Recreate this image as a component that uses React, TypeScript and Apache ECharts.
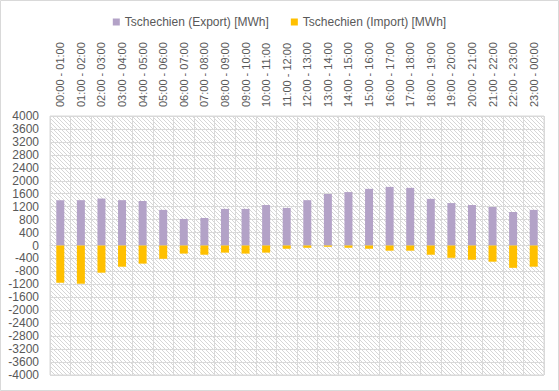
import React, { useEffect, useRef } from "react";
import * as echarts from "echarts";

const categories = [
  "00:00 - 01:00", "01:00 - 02:00", "02:00 - 03:00", "03:00 - 04:00",
  "04:00 - 05:00", "05:00 - 06:00", "06:00 - 07:00", "07:00 - 08:00",
  "08:00 - 09:00", "09:00 - 10:00", "10:00 - 11:00", "11:00 - 12:00",
  "12:00 - 13:00", "13:00 - 14:00", "14:00 - 15:00", "15:00 - 16:00",
  "16:00 - 17:00", "17:00 - 18:00", "18:00 - 19:00", "19:00 - 20:00",
  "20:00 - 21:00", "21:00 - 22:00", "22:00 - 23:00", "23:00 - 00:00",
];

const exportValues = [
  1400, 1400, 1450, 1400, 1375, 1100, 820, 850, 1130, 1130, 1250, 1160,
  1400, 1590, 1650, 1750, 1810, 1780, 1440, 1310, 1250, 1190, 1035, 1100,
];

const importValues = [
  -1150, -1180, -840, -655, -560, -410, -250, -285, -220, -250, -220, -100,
  -70, -40, -70, -100, -160, -160, -285, -380, -440, -500, -690, -655,
];

const seriesNames = ["Tschechien (Export) [MWh]", "Tschechien (Import) [MWh]"];

const FONT = "'Liberation Sans', Arial, sans-serif";
const TEXT = "#595959";
const GRID = "#d9d9d9";

function makeHatch() {
  const c = document.createElement("canvas");
  c.width = 4;
  c.height = 4;
  const ctx = c.getContext("2d")!;
  ctx.fillStyle = "#ffffff";
  ctx.fillRect(0, 0, 4, 4);
  ctx.fillStyle = "#d6d6d6";
  for (let i = 0; i < 4; i++) ctx.fillRect(i, i, 1, 1);
  return c;
}

export default function App() {
  const ref = useRef<HTMLDivElement>(null);
  useEffect(() => {
    if (!ref.current) return;
    const chart = echarts.init(ref.current, null, { renderer: "svg" });
    chart.setOption({
      animation: false,
      backgroundColor: "#ffffff",
      textStyle: { fontFamily: FONT },
      graphic: [
        {
          type: "rect",
          shape: { x: 0.5, y: 0.5, width: 558, height: 390 },
          style: { fill: "none", stroke: GRID, lineWidth: 1 },
          silent: true,
        },
      ],
      legend: {
        top: 11,
        left: "center",
        icon: "rect",
        itemWidth: 7,
        itemHeight: 7,
        itemGap: 22,
        textStyle: { color: TEXT, fontSize: 12, fontFamily: FONT },
        data: seriesNames,
      },
      grid: {
        left: 50,
        right: 15,
        top: 116,
        bottom: 16,
        show: true,
        borderColor: GRID,
        borderWidth: 1,
        backgroundColor: { image: makeHatch(), repeat: "repeat" },
      },
      xAxis: {
        type: "category",
        position: "top",
        data: categories,
        axisLine: { show: true, lineStyle: { color: GRID } },
        axisTick: { show: false },
        splitLine: { show: true, lineStyle: { color: GRID, width: 1 } },
        axisLabel: {
          rotate: 90,
          interval: 0,
          margin: 9,
          color: TEXT,
          fontSize: 11,
          fontFamily: FONT,
        },
      },
      yAxis: {
        type: "value",
        min: -4000,
        max: 4000,
        interval: 400,
        axisLine: { show: false },
        axisTick: { show: false },
        splitLine: { show: true, lineStyle: { color: GRID, width: 1 } },
        axisLabel: {
          color: TEXT,
          fontSize: 12,
          margin: 11,
          fontFamily: FONT,
          formatter: (v: number) => String(v),
        },
      },
      series: [
        {
          name: seriesNames[0],
          type: "bar",
          stack: "total",
          barWidth: 8,
          itemStyle: { color: "#b3a2c7" },
          data: exportValues,
        },
        {
          name: seriesNames[1],
          type: "bar",
          stack: "total",
          barWidth: 8,
          itemStyle: { color: "#ffc000" },
          data: importValues,
        },
      ],
    });
    return () => chart.dispose();
  }, []);
  return (
    <div
      ref={ref}
      style={{ position: "fixed", left: 0, top: 0, width: 559, height: 391 }}
    />
  );
}
